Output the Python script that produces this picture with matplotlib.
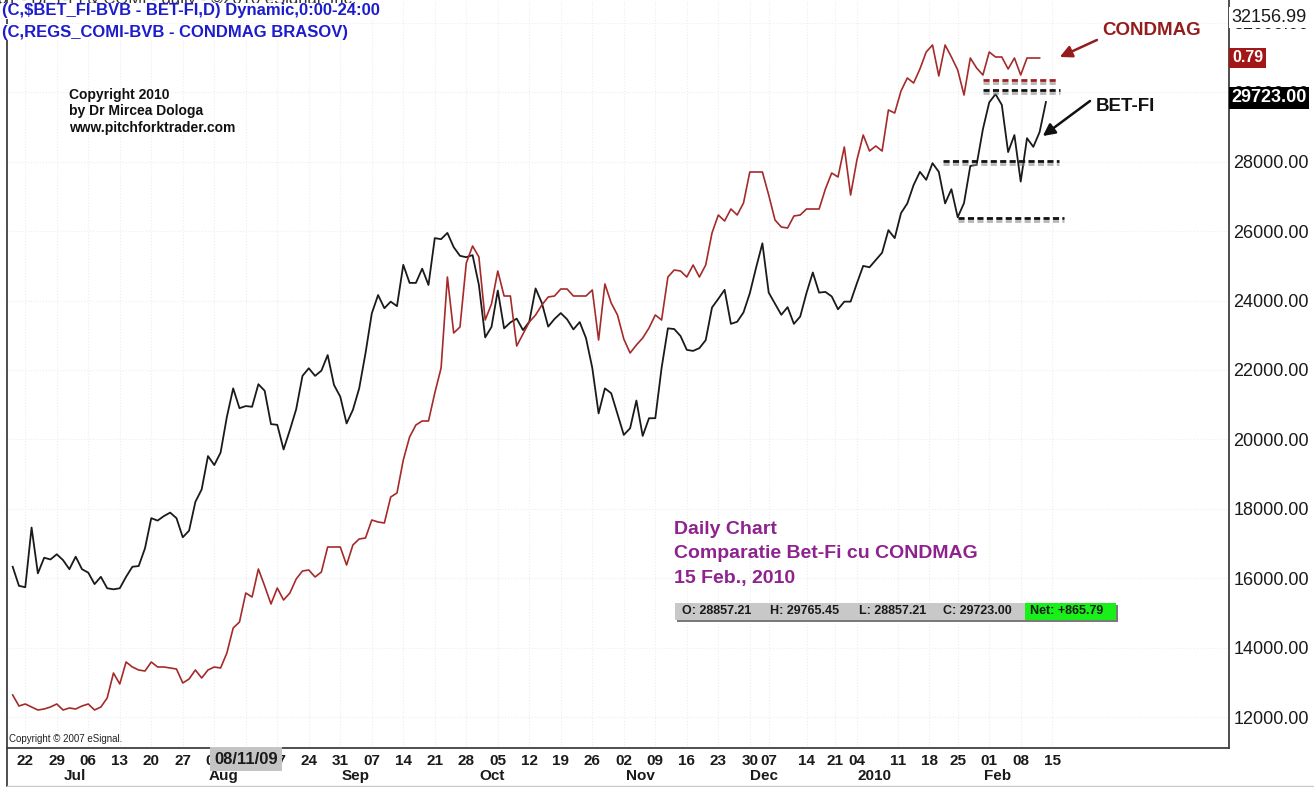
import matplotlib
matplotlib.use('Agg')
import matplotlib.pyplot as plt
import matplotlib.transforms as mtransforms
import matplotlib.patheffects as pe
from matplotlib import font_manager as fm
from matplotlib.patches import Rectangle
from matplotlib.lines import Line2D

plt.rcParams['font.family'] = ['Liberation Sans', 'DejaVu Sans']

# ---------------- data ----------------
betfi = [16330, 15780, 15740, 17460, 16140, 16590, 16540, 16690, 16520, 16260,
         16620, 16260, 16160, 15830, 16040, 15710, 15680, 15710, 16040, 16330,
         16350, 16860, 17730, 17660, 17790, 17890, 17730, 17180, 17370, 18200,
         18560, 19520, 19260, 19620, 20650, 21470, 20900, 20960, 20940, 21590,
         21400, 20440, 20420, 19710, 20270, 20870, 21830, 22050, 21830, 21980,
         22430, 21570, 21230, 20460, 20850, 21470, 22480, 23630, 24160, 23780,
         23970, 23840, 25030, 24510, 24510, 24920, 24450, 25800, 25770, 25950,
         25540, 25290, 25250, 25310, 24450, 22940, 23240, 24290, 23200, 23370,
         23480, 23150, 23390, 24350, 23930, 23250, 23470, 23640, 23460, 23170,
         23380, 22920, 22060, 20750, 21470, 21330, 20730, 20130, 20320, 21120,
         20100, 20610, 20610, 22060, 23200, 23180, 22980, 22580, 22550, 22630,
         22860, 23800, 24050, 24310, 23330, 23390, 23660, 24210, 24950, 25650,
         24230, 23910, 23590, 23810, 23330, 23540, 24220, 24810, 24230, 24250,
         24120, 23750, 23970, 23970, 24500, 25000, 24960, 25170, 25380, 26030,
         25800, 26520, 26800, 27330, 27710, 27480, 27960, 27710, 26800, 27210,
         26400, 26810, 27880, 27910, 28940, 29710, 29950, 29640, 28280, 28770,
         27430, 28680, 28430, 28857.21, 29723.00]

condmag = [0.153, 0.142, 0.144, 0.141, 0.138, 0.139, 0.141, 0.144, 0.138, 0.140,
           0.139, 0.142, 0.144, 0.138, 0.141, 0.150, 0.175, 0.164, 0.186, 0.181,
           0.178, 0.177, 0.186, 0.181, 0.181, 0.180, 0.179, 0.165, 0.169, 0.178,
           0.170, 0.178, 0.181, 0.180, 0.195, 0.220, 0.226, 0.255, 0.251, 0.279,
           0.262, 0.244, 0.260, 0.248, 0.255, 0.269, 0.277, 0.278, 0.271, 0.276,
           0.301, 0.301, 0.301, 0.283, 0.303, 0.309, 0.310, 0.328, 0.326, 0.325,
           0.351, 0.355, 0.388, 0.411, 0.423, 0.427, 0.427, 0.455, 0.480, 0.571,
           0.515, 0.521, 0.585, 0.602, 0.591, 0.528, 0.544, 0.577, 0.552, 0.552,
           0.502, 0.514, 0.526, 0.533, 0.543, 0.551, 0.552, 0.559, 0.559, 0.552,
           0.552, 0.552, 0.558, 0.508, 0.564, 0.545, 0.533, 0.509, 0.495, 0.503,
           0.510, 0.520, 0.533, 0.528, 0.571, 0.578, 0.577, 0.571, 0.583, 0.571,
           0.583, 0.615, 0.633, 0.627, 0.639, 0.633, 0.645, 0.676, 0.676, 0.676,
           0.653, 0.628, 0.621, 0.620, 0.632, 0.633, 0.639, 0.639, 0.639, 0.659,
           0.675, 0.671, 0.701, 0.653, 0.688, 0.713, 0.697, 0.702, 0.697, 0.738,
           0.735, 0.757, 0.770, 0.765, 0.779, 0.796, 0.803, 0.772, 0.803, 0.791,
           0.778, 0.753, 0.790, 0.780, 0.773, 0.796, 0.791, 0.791, 0.779, 0.790,
           0.773, 0.790, 0.790, 0.790]

day_ticks = [2, 7, 12, 17, 22, 27, 32, 37, 42, 47, 52, 57, 62, 67, 72, 77, 82,
             87, 92, 97, 102, 107, 112, 117, 120, 126, 130.5, 134, 140.5,
             145.5, 150, 155, 160, 165]
day_labels = ['22', '29', '06', '13', '20', '27', '03', '10', '17', '24', '31',
              '07', '14', '21', '28', '05', '12', '19', '26', '02', '09', '16',
              '23', '30', '07', '14', '21', '04', '11', '18', '25', '01', '08', '15']
month_pos = [9.9, 33.4, 54.4, 76.1, 99.6, 119.3, 136.8, 156.4]
month_labels = ['Jul', 'Aug', 'Sep', 'Oct', 'Nov', 'Dec', '2010', 'Feb']

y_ticks = [12000, 14000, 16000, 18000, 20000, 22000, 24000, 26000, 28000, 30000, 32000]

# support / resistance levels (index start, index end, value)
bet_levels = [(154, 166.2, 30070), (147.7, 166.1, 28020), (150.1, 166.9, 26380)]
cond_levels = [(154, 165.8, 0.768)]

last_high = 32156.99
ohlc_text = ['O: 28857.21', 'H: 29765.45', 'L: 28857.21', 'C: 29723.00']
net_text = 'Net: +865.79'

# narrow font for the date axis, if installed
_names = {f.name for f in fm.fontManager.ttflist}
if 'Liberation Sans Narrow' in _names:
    date_font = dict(family=['Liberation Sans Narrow', 'DejaVu Sans'], fontsize=12.5)
else:
    date_font = dict(family=['Liberation Sans', 'DejaVu Sans'], fontsize=11)

# ---------------- figure ----------------
W, H = 1314, 787
fig = plt.figure(figsize=(W / 100, H / 100), dpi=100)
fig.patch.set_facecolor('white')

def fx(px):
    return px / W

def fy(py):
    return 1 - py / H

ax = fig.add_axes([fx(7), fy(748), (1229 - 7) / W, 748 / H])
ax.set_xlim(-0.9, 193.06)
ax.set_ylim(11107, 32662)

ax2 = ax.twinx()
ax2.set_ylim(0.100, 0.848)
ax2.axis('off')

for s in ['left', 'right', 'bottom']:
    ax.spines[s].set_color('#404040')
    ax.spines[s].set_linewidth(1.3)
ax.spines['top'].set_visible(False)

ax.grid(True, color='#ededed', linestyle=':', linewidth=0.8)
ax.set_axisbelow(True)

x_b = list(range(len(betfi)))
x_c = list(range(len(condmag)))
ax.plot(x_b, betfi, color='#1a1a1a', lw=1.3, zorder=4)
ax2.plot(x_c, condmag, color='#a52a2a', lw=1.2, zorder=3)

# dashed levels
shadow = [pe.SimpleLineShadow(offset=(0, -2), shadow_color='#888888', alpha=0.6), pe.Normal()]
for x0, x1, v in bet_levels:
    ax.plot([x0, x1], [v, v], color='#111111', lw=2.0, ls=(0, (2.2, 1.2)),
            path_effects=shadow, zorder=5)
for x0, x1, v in cond_levels:
    ax2.plot([x0, x1], [v, v], color='#a02020', lw=2.0, ls=(0, (2.2, 1.2)),
             path_effects=shadow, zorder=5)

# y axis on right
ax.yaxis.tick_right()
ax.set_yticks(y_ticks)
ax.set_yticklabels([f'{v:.2f}' for v in y_ticks], fontsize=13, color='#1a1a1a')
ax.tick_params(axis='y', length=0, pad=3)

# x axis
ax.set_xticks(day_ticks)
ax.set_xticklabels(day_labels, fontweight='bold', color='#1a1a1a', **date_font)
ax.tick_params(axis='x', length=0, pad=4)

trans_xm = mtransforms.blended_transform_factory(ax.transData, ax.transAxes)
for p, lab in zip(month_pos, month_labels):
    ax.text(p, -28 / 748, lab, transform=trans_xm, ha='center', va='center',
            fontweight='bold', color='#1a1a1a', clip_on=False, **date_font)

# cursor date box
ax.text(37, -11 / 748, '08/11/09', transform=trans_xm, ha='center', va='center',
        fontsize=12, fontweight='bold', color='#1a1a1a', clip_on=False, zorder=10,
        bbox=dict(boxstyle='square,pad=0.25', facecolor='#c4c4c4', edgecolor='none'))

# right side tags
ytr = ax.get_yaxis_transform()
tr_off = mtransforms.offset_copy(ytr, fig=fig, x=2, y=0, units='dots')
ax.text(1.0, last_high, f'{last_high:.2f}', transform=tr_off, ha='left', va='center',
        fontsize=13, color='#1a1a1a', clip_on=False, zorder=10,
        bbox=dict(boxstyle='square,pad=0.1', facecolor='white', edgecolor='none'))
ytr2 = ax2.get_yaxis_transform()
tr_off2 = mtransforms.offset_copy(ytr2, fig=fig, x=3, y=0, units='dots')
ax2.text(1.0, condmag[-1], f'{condmag[-1]:.2f}', transform=tr_off2, ha='left', va='center',
         fontsize=11.5, fontweight='bold', color='white', clip_on=False, zorder=10,
         bbox=dict(boxstyle='square,pad=0.18', facecolor='#a31616', edgecolor='none'))
tr_off3 = mtransforms.offset_copy(ytr, fig=fig, x=2, y=4, units='dots')
ax.text(1.0, betfi[-1], f'{betfi[-1]:.2f}', transform=tr_off3, ha='left', va='center',
        fontsize=13, fontweight='bold', color='white', clip_on=False, zorder=10,
        bbox=dict(boxstyle='square,pad=0.12', facecolor='black', edgecolor='none'))

# annotations (labels and arrows)
ax.text(180.7, 31769, 'CONDMAG', ha='center', va='center', fontsize=13.5,
        fontweight='bold', color='#951c1c', zorder=10)
ax.annotate('', xy=(166.2, 31020), xytext=(172.1, 31510),
            arrowprops=dict(arrowstyle='-|>', color='#951c1c', lw=1.8,
                            mutation_scale=18, shrinkA=0, shrinkB=0), zorder=10)
ax.text(176.7, 29579, 'BET-FI', ha='center', va='center', fontsize=13.5,
        fontweight='bold', color='#111111', zorder=10)
ax.annotate('', xy=(163.5, 28742), xytext=(171.0, 29752),
            arrowprops=dict(arrowstyle='-|>', color='#111111', lw=1.8,
                            mutation_scale=18, shrinkA=0, shrinkB=0), zorder=10)

# header texts
fig.text(fx(-2), fy(4), '01 - BET-FI & COMI - daily - \u00a92010 eSignal, Inc.', ha='left',
         va='baseline', fontsize=12, color='#333333')
fig.text(fx(2), fy(11), '(C,$BET_FI-BVB - BET-FI,D) Dynamic,0:00-24:00', ha='left',
         va='center', fontsize=12, fontweight='bold', color='#1c1ccc',
         bbox=dict(boxstyle='square,pad=0.05', facecolor='white', edgecolor='none'))
fig.text(fx(2), fy(32), '(C,REGS_COMI-BVB - CONDMAG BRASOV)', ha='left',
         va='center', fontsize=12, fontweight='bold', color='#1c1ccc',
         bbox=dict(boxstyle='square,pad=0.05', facecolor='white', edgecolor='none'))

for txt, py in zip(['Copyright 2010', 'by Dr Mircea Dologa', 'www.pitchforktrader.com'],
                   [95, 111, 128]):
    fig.text(fx(69), fy(py), txt, ha='left', va='center', fontsize=10,
             fontweight='bold', color='#111111')

for txt, py in zip(['Daily Chart', 'Comparatie Bet-Fi cu CONDMAG', '15 Feb., 2010'],
                   [530, 553, 578]):
    fig.text(fx(674), fy(py), txt, ha='left', va='center', fontsize=14,
             fontweight='bold', color='#8e238e')

fig.text(fx(9), fy(739), 'Copyright \u00a9 2007 eSignal.', ha='left', va='center',
         fontsize=7, color='#222222')

# OHLC status bar
fig.add_artist(Rectangle((fx(677), fy(622)), 441 / W, 17 / H, transform=fig.transFigure,
                         facecolor='#7a7a7a', edgecolor='none', zorder=1))
fig.add_artist(Rectangle((fx(675), fy(620)), 441 / W, 17 / H, transform=fig.transFigure,
                         facecolor='#c8c8c8', edgecolor='none', zorder=2))
fig.add_artist(Rectangle((fx(1025), fy(620)), 91 / W, 17 / H, transform=fig.transFigure,
                         facecolor='#19f019', edgecolor='none', zorder=3))
for txt, px in zip(ohlc_text, [682, 770, 859, 943]):
    fig.text(fx(px), fy(611.5), txt, ha='left', va='center', fontsize=9,
             fontweight='bold', color='#1a1a1a', zorder=4)
fig.text(fx(1030), fy(611.5), net_text, ha='left', va='center', fontsize=9,
         fontweight='bold', color='#1a1a1a', zorder=4)

# bottom frame lines
fig.add_artist(Line2D([fx(7), fx(7)], [fy(748), fy(787)], transform=fig.transFigure,
                      color='#404040', lw=1.3))
fig.add_artist(Line2D([fx(7), fx(1314)], [fy(785.5), fy(785.5)], transform=fig.transFigure,
                      color='#c8c8c8', lw=1.0))

fig.savefig('out.png', dpi=100, facecolor='white')
